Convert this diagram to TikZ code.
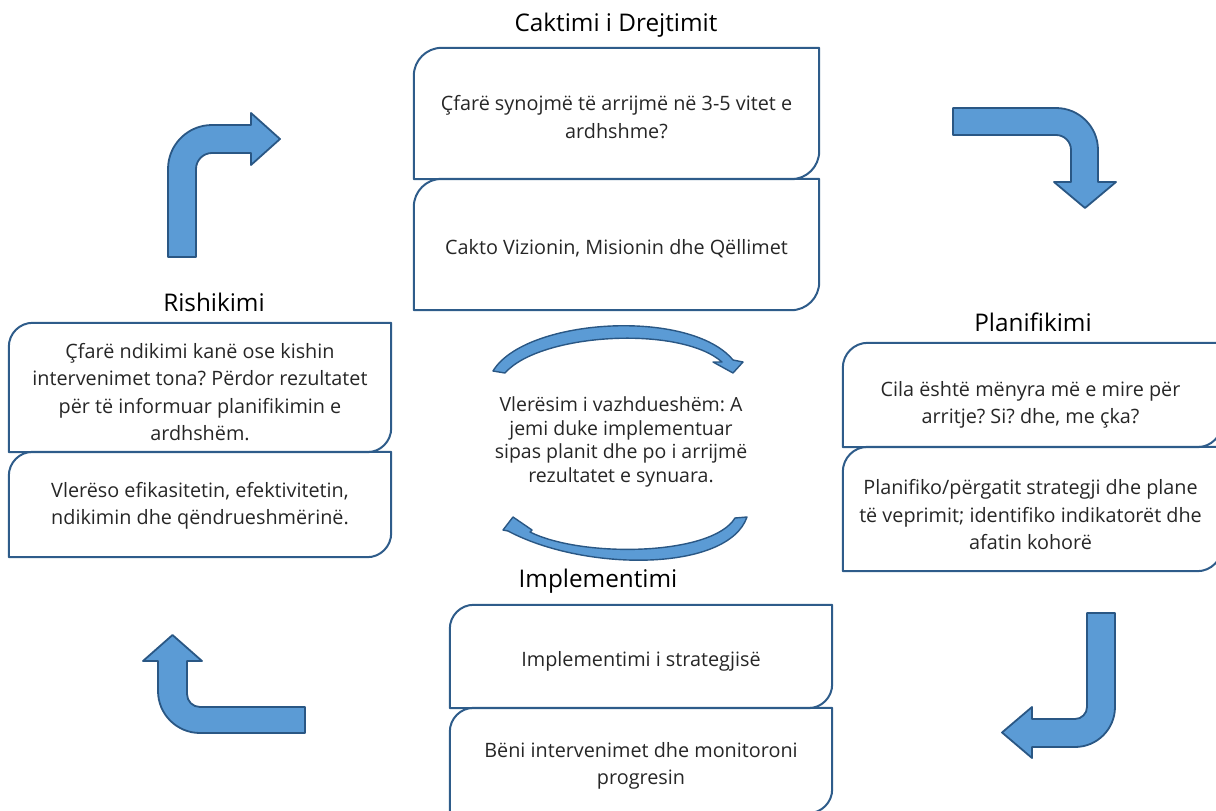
\documentclass[tikz,border=0pt]{standalone}
\usepackage{fontspec}
\setmainfont{Open Sans}
\frenchspacing
\usetikzlibrary{calc}
\definecolor{boxline}{HTML}{2E5C8A}
\definecolor{arrfill}{HTML}{5B9BD5}
\definecolor{arrline}{HTML}{2A5784}
\definecolor{txt}{HTML}{262626}
\tikzset{
  stagebox/.style={inner sep=0pt},
  boxtext/.style={inner sep=0pt, align=center, text=txt, font=\fontsize{19.8}{27.5}\selectfont},
  boxoutline/.style={draw=boxline, line width=2pt, line join=round},
  bentarrow/.style={fill=arrfill, draw=arrline, line width=1.8pt, line join=round},
  cyclearrow/.style={fill=arrfill, draw=arrline, line width=1.4pt, line join=round},
  stagetitle/.style={inner sep=0pt, text=black, font=\fontsize{24.3}{28}\selectfont},
  centertext/.style={inner sep=0pt, align=center, text=txt, font=\fontsize{19.5}{23.5}\selectfont}
}
\newcommand\stageoutline[2]{%
  \path[boxoutline] let \p1=(#1.north west), \p2=(#1.south east) in
   (\x1,\y2) -- (\x1,{\y1-#2pt}) .. controls (\x1,{\y1-0.448*#2pt}) and ({\x1+0.448*#2pt},\y1) .. ({\x1+#2pt},\y1)
   -- (\x2,\y1) -- (\x2,{\y2+#2pt}) .. controls (\x2,{\y2+0.448*#2pt}) and ({\x2-0.448*#2pt},\y2) .. ({\x2-#2pt},\y2) -- cycle;
}
\begin{document}
\begin{tikzpicture}[x=1pt,y=-1pt]
\useasboundingbox (0,0) rectangle (1216,811);
\clip (0,0) rectangle (1216,811);

% titles
\node[stagetitle] (tcd) at (616,25) {Caktimi i Drejtimit};
\node[stagetitle] (trs) at (214,302) {Rishikimi};
\node[stagetitle] (tpl) at (1033,322) {Planifikimi};
\node[stagetitle] (tim) at (598,581) {Implementimi};

% boxes
\node[stagebox, minimum width=405pt, minimum height=131pt] (cd1) at (616.5,113.5) {};
\node[stagebox, minimum width=405pt, minimum height=131pt] (cd2) at (616.5,244.5) {};
\node[stagebox, minimum width=382pt, minimum height=129pt] (rs1) at (200,387.5) {};
\node[stagebox, minimum width=382pt, minimum height=105pt] (rs2) at (200,504.5) {};
\node[stagebox, minimum width=379pt, minimum height=104pt] (pl1) at (1032.5,395) {};
\node[stagebox, minimum width=379pt, minimum height=124pt] (pl2) at (1032.5,509) {};
\node[stagebox, minimum width=382pt, minimum height=103pt] (im1) at (641,656.5) {};
\node[stagebox, minimum width=382pt, minimum height=105pt] (im2) at (641,760.5) {};

\stageoutline{cd1}{28}
\stageoutline{cd2}{28}
\stageoutline{rs1}{24}
\stageoutline{rs2}{24}
\stageoutline{pl1}{25}
\stageoutline{pl2}{25}
\stageoutline{im1}{24}
\stageoutline{im2}{24}

% box texts
\node[boxtext] (cd1t) at (616.5,117) {Çfarë synojmë të arrijmë në 3-5 vitet e\\ardhshme?};
\node[boxtext] (cd2t) at (616.5,249) {Cakto Vizionin, Misionin dhe Qëllimet};
\node[boxtext] (rs1t) at (200,392) {Çfarë ndikimi kanë ose kishin\\intervenimet tona? Përdor rezultatet\\për të informuar planifikimin e\\ardhshëm.};
\node[boxtext] (rs2t) at (200,506) {Vlerëso efikasitetin, efektivitetin,\\ndikimin dhe qëndrueshmërinë.};
\node[boxtext] (pl1t) at (1030.5,405) {Cila është mënyra më e mire për\\arritje? Si? dhe, me çka?};
\node[boxtext] (pl2t) at (1030.5,515) {Planifiko/përgatit strategji dhe plane\\të veprimit; identifiko indikatorët dhe\\afatin kohorë};
\node[boxtext] (im1t) at (641,661.5) {Implementimi i strategjisë};
\node[boxtext] (im2t) at (641,766) {Bëni intervenimet dhe monitoroni\\progresin};

% centre
\node[centertext] (ctr) at (621,442)
  {Vlerësim i vazhdueshëm: A\\jemi duke implementuar\\sipas planit dhe po i arrijmë\\rezultatet e synuara.};

\path[cyclearrow] (493,371) .. controls (525,318) and (690,308) .. (733,360)
  -- (743,362) -- (733,373) -- (713,362) -- (722,362)
  .. controls (680,325) and (540,333) .. (505,373) -- cycle;
\path[cyclearrow] (747,517) .. controls (728,572) and (585,572) .. (508,531)
  -- (503,530) -- (513,517) -- (532,530) -- (530,532)
  .. controls (582,558) and (712,556) .. (735,518) -- cycle;

% bent arrows
\path[bentarrow] (168,257) -- (168,169) .. controls (168,144.7) and (187.7,125) .. (212,125)
  -- (251,125) -- (251,113) -- (280,139) -- (251,165) -- (251,153) -- (212,153)
  .. controls (203.2,153) and (196,160.2) .. (196,169) -- (196,257) -- cycle;
\path[bentarrow] (953,108) -- (1056,108) .. controls (1079.2,108) and (1098,126.8) .. (1098,150)
  -- (1098,182) -- (1116,182) -- (1085,208) -- (1054,182) -- (1071,182) -- (1071,150)
  .. controls (1071,141.7) and (1064.3,135) .. (1056,135) -- (953,135) -- cycle;
\path[bentarrow] (1087,613) -- (1115,613) -- (1115,707) .. controls (1115,729.1) and (1097.1,747) .. (1075,747)
  -- (1032,747) -- (1032,758) -- (1002,732.5) -- (1032,707) -- (1032,719) -- (1075,719)
  .. controls (1081.6,719) and (1087,713.6) .. (1087,707) -- cycle;
\path[bentarrow] (305,707) -- (200,707) .. controls (192.8,707) and (187,701.2) .. (187,694)
  -- (187,661) -- (202,661) -- (172.5,635) -- (143,661) -- (158,661) -- (158,691)
  .. controls (158,714.2) and (176.8,733) .. (200,733) -- (305,733) -- cycle;
\end{tikzpicture}
\end{document}
